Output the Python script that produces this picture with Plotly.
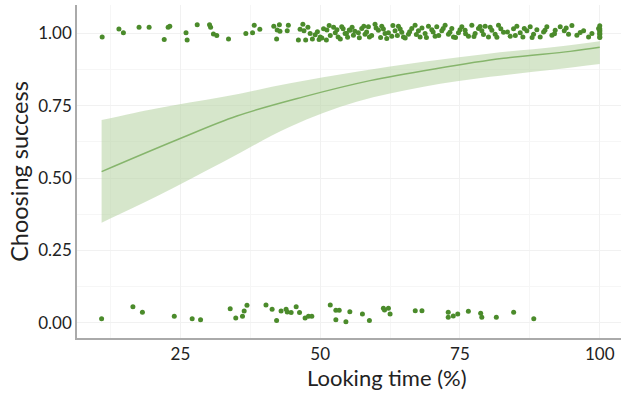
import plotly.graph_objects as go

# Jittered observations at success = 1
top_x = [11.0, 14.0, 14.8, 17.6, 19.4, 22.8, 23.1, 22.1, 26.0, 26.2, 28.0, 30.2, 30.4, 30.9, 31.5, 33.6,
         36.7, 38.2, 37.9, 39.2, 41.7, 42.7, 44.3, 42.3, 42.8, 44.1, 42.2, 46.9, 46.4, 47.1, 46.1, 47.4,
         48.6, 48.2, 49.1, 50.0, 50.6, 51.2, 51.8, 52.4, 52.7, 53.2, 54.1, 54.7, 55.2, 51.1, 49.8,
         53.85, 54.45, 55.34, 55.94, 56.83, 57.43, 58.02, 58.62, 58.80, 59.81, 60.41, 61.01, 61.60, 61.90,
         62.80, 63.39, 63.99, 64.59, 64.89, 65.78, 66.38, 66.97, 67.57, 67.87, 68.76, 69.36, 69.96, 70.55,
         70.85, 71.75, 72.34, 72.94, 73.54, 73.84, 74.73, 75.33, 75.92, 76.52, 77.12, 77.71, 78.31, 78.91,
         79.50, 80.10, 80.70, 81.29, 81.89, 82.79, 83.98, 84.58, 85.17, 85.77, 86.25, 86.96, 87.56, 88.16,
         88.75, 89.35, 89.95, 90.54, 91.44, 92.03, 92.93, 93.65, 94.42, 95.02, 95.91, 97.11, 98.00, 98.60,
         99.79, 100.0, 100.0, 100.0, 100.0, 100.0, 100.0, 100.0, 100.0,
         47.8, 49.5, 50.3, 51.6, 53.0, 53.6, 54.9, 55.7, 56.2, 57.0, 57.8, 58.3, 59.2, 60.0, 60.8, 61.3,
         62.2, 63.0, 63.8, 64.3, 65.2, 66.0, 67.2, 68.2, 69.0, 70.2, 71.2, 72.0, 73.2, 74.2, 75.0, 76.0,
         77.5, 78.6, 79.2, 80.4, 81.6, 82.3, 83.5, 84.9, 86.5, 87.9, 90.2, 91.9, 94.0, 96.5]
top_y = [0.987, 1.014, 1.001, 1.020, 1.020, 1.020, 1.024, 0.978, 1.001, 0.976, 1.029, 1.029, 1.020, 0.997, 0.992, 0.980,
         0.999, 1.027, 1.001, 1.013, 1.024, 1.029, 1.027, 1.011, 1.006, 1.008, 0.980, 1.031, 1.013, 1.008, 0.976, 0.976,
         0.980, 0.999, 0.994, 0.987, 1.015, 1.011, 0.992, 1.020, 1.001, 0.987, 1.015, 0.999, 1.011, 0.976, 0.978,
         1.022, 0.999, 1.010, 0.993, 1.001, 1.016, 0.996, 1.022, 0.987, 1.031, 1.010, 1.024, 0.999, 0.981,
         0.989, 1.008, 1.024, 1.003, 0.987, 0.996, 1.016, 1.027, 1.008, 0.987, 0.999, 1.024, 1.012, 0.989,
         1.022, 1.008, 1.027, 0.996, 1.016, 0.987, 1.001, 1.022, 1.010, 0.989, 1.027, 0.999, 1.016, 1.008,
         1.024, 0.987, 1.010, 0.996, 1.027, 1.003, 0.989, 1.015, 1.024, 1.001, 0.987, 1.008, 1.022, 0.996,
         1.012, 0.987, 1.004, 1.022, 0.993, 1.010, 1.022, 1.008, 0.996, 1.026, 0.993, 1.008, 0.987, 0.999,
         1.016, 0.987, 0.999, 1.010, 0.985, 0.995, 1.005, 1.015, 1.025,
         1.020, 1.005, 0.983, 1.026, 1.012, 0.980, 0.986, 1.020, 1.006, 0.984, 1.024, 1.004, 0.992, 1.018, 0.985, 1.014,
         1.001, 1.026, 0.992, 1.014, 0.983, 1.005, 0.995, 1.018, 0.985, 1.004, 0.992, 1.016, 1.003, 0.985, 1.012, 0.998,
         0.988, 1.023, 0.995, 1.020, 0.986, 1.015, 1.004, 0.992, 1.016, 0.985, 1.010, 0.998, 1.018, 1.002]

# Jittered observations at success = 0
bot_x = [10.9, 16.5, 18.2, 23.9, 27.1, 28.6, 33.9, 34.9, 36.1, 36.4, 36.9, 40.3, 41.4, 42.2, 43.0, 43.9,
         44.1, 44.8, 45.7, 46.3, 47.3, 47.9, 48.5, 51.8, 52.8, 53.4, 52.8, 54.6, 55.3,
         57.55, 58.8, 61.3, 62.2, 62.5, 61.5, 67.0, 68.2, 72.9, 72.9, 73.8, 74.6, 76.5, 78.7, 78.9, 81.5, 84.6, 88.2]
bot_y = [0.014, 0.056, 0.037, 0.023, 0.014, 0.011, 0.049, 0.017, 0.023, 0.041, 0.061, 0.062, 0.047, 0.008, 0.041, 0.047,
         0.038, 0.036, 0.056, 0.036, 0.017, 0.023, 0.023, 0.062, 0.044, 0.044, 0.011, 0.004, 0.039,
         0.031, 0.008, 0.051, 0.051, 0.031, 0.045, 0.042, 0.042, 0.037, 0.020, 0.024, 0.031, 0.040, 0.033, 0.020, 0.020, 0.037, 0.014]

# Fitted logistic curve and confidence band
fit_x = [10.9, 24.3, 35.1, 47.0, 58.9, 70.9, 82.8, 94.7, 100.0]
fit_y = [0.522, 0.631, 0.714, 0.780, 0.836, 0.878, 0.913, 0.937, 0.951]
band_x = [10.9, 20.7, 32.7, 44.6, 56.5, 68.5, 80.4, 92.3, 100.0]
band_hi = [0.700, 0.740, 0.780, 0.827, 0.867, 0.901, 0.930, 0.953, 0.972]
band_lo = [0.346, 0.436, 0.556, 0.677, 0.763, 0.815, 0.849, 0.875, 0.893]

x_ticks = [25, 50, 75, 100]
y_ticks = [0.0, 0.25, 0.5, 0.75, 1.0]
y_labels = ["0.00", "0.25", "0.50", "0.75", "1.00"]
x_title = "Looking time (%)"
y_title = "Choosing success"

PT = "#4b8b2b"
FONT = "Lato"

fig = go.Figure()
fig.add_trace(go.Scatter(x=band_x, y=band_lo, mode="lines", line=dict(width=0, shape="spline"),
                         hoverinfo="skip", showlegend=False))
fig.add_trace(go.Scatter(x=band_x, y=band_hi, mode="lines", fill="tonexty",
                         fillcolor="rgba(180,210,160,0.55)", line=dict(width=0, shape="spline"),
                         hoverinfo="skip", showlegend=False))
fig.add_trace(go.Scatter(x=fit_x, y=fit_y, mode="lines", line=dict(color="#86b56c", width=1.5, shape="spline"),
                         showlegend=False))
fig.add_trace(go.Scatter(x=top_x, y=top_y, mode="markers", marker=dict(color=PT, size=5), showlegend=False))
fig.add_trace(go.Scatter(x=bot_x, y=bot_y, mode="markers", marker=dict(color=PT, size=5), showlegend=False))

fig.update_layout(
    width=621, height=394,
    margin=dict(l=77, r=0, t=5, b=56, autoexpand=False),
    paper_bgcolor="white", plot_bgcolor="white",
    font=dict(family=FONT, color="#222222"),
)
fig.add_annotation(text=x_title, xref="paper", yref="paper", x=0.57, y=-0.12,
                   xanchor="center", yanchor="middle", showarrow=False,
                   font=dict(size=22, family=FONT, color="#222222"))
fig.update_xaxes(
    range=[6.5, 103.8], tickvals=x_ticks, ticktext=[str(v) for v in x_ticks],
    showgrid=True, gridcolor="#f1f1f1", gridwidth=1,
    minor=dict(tickvals=[12.5, 37.5, 62.5, 87.5], showgrid=True, gridcolor="#f6f6f6"),
    zeroline=False, showline=True, linecolor="#aaaaaa", linewidth=1.5, mirror=False,
    ticks="", tickfont=dict(size=17, family=FONT), automargin=False,
)
fig.update_yaxes(
    range=[-0.052, 1.097], tickvals=y_ticks, ticktext=y_labels,
    showgrid=True, gridcolor="#f1f1f1", gridwidth=1,
    minor=dict(tickvals=[0.125, 0.375, 0.625, 0.875], showgrid=True, gridcolor="#f6f6f6"),
    zeroline=False, showline=True, linecolor="#aaaaaa", linewidth=1.5, mirror=False,
    ticks="", tickfont=dict(size=17, family=FONT), automargin=False,
    title=dict(text=y_title, font=dict(size=23.5, family=FONT), standoff=3),
)

fig.write_html("out.html", config={"displayModeBar": False},
               post_script="document.body.style.margin='0';document.body.style.overflow='hidden';")
